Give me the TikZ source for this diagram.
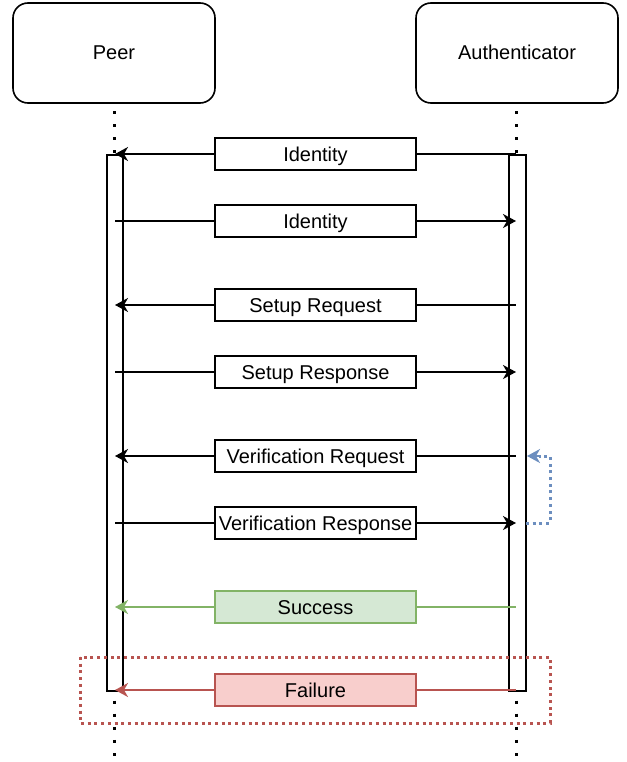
\documentclass[tikz,border=0pt]{standalone}
\usepackage{fontspec}
\setmainfont{Liberation Sans}
\usetikzlibrary{arrows.meta}
\definecolor{bluec}{HTML}{6C8EBF}
\definecolor{greenc}{HTML}{82B366}
\definecolor{greenf}{HTML}{D5E8D4}
\definecolor{redc}{HTML}{B85450}
\definecolor{redf}{HTML}{F8CECC}
\begin{document}
\begin{tikzpicture}[x=1pt,y=-1pt,
  actorbox/.style={draw,line width=1.6pt,rounded corners=15pt,minimum width=202pt,minimum height=100pt,text height=15pt,text depth=1pt,font=\fontsize{20}{24}\selectfont},
  msgbox/.style={draw,line width=1.6pt,fill=white,minimum width=201pt,minimum height=32pt,inner sep=0pt,text height=15pt,text depth=1pt,font=\fontsize{20}{24}\selectfont},
  lifeline/.style={line width=3pt,dash pattern=on 3pt off 10.1pt,dash phase=5.8pt},
  actbar/.style={draw,line width=1.6pt,fill=white},
  msgline/.style={line width=1.5pt},
  tip/.style={-{Stealth[length=13pt,width=14pt,inset=4pt]}},
  dotline/.style={line width=3pt,dash pattern=on 3pt off 3.7pt}
]
\useasboundingbox (0,0) rectangle (626,762);
\fill[white] (0,0) rectangle (626,762);
% actors
\node[actorbox] (peer) at (114,53) {Peer};
\node[actorbox] (auth) at (517,53) {Authenticator};
% lifeline ends
\coordinate (peerEnd) at (114,762);
\coordinate (authEnd) at (516,762);
\draw[lifeline] (peer.south) -- (peerEnd);
\draw[lifeline] (auth.south -| authEnd) -- (authEnd);
% activation bars
\node[actbar,minimum width=16pt,minimum height=536pt,inner sep=0pt,anchor=north west] (barP) at (106,154) {};
\node[actbar,minimum width=17pt,minimum height=536pt,inner sep=0pt,anchor=north west] (barA) at (508,154) {};
% message boxes
\node[msgbox] (m1) at (315.5,154) {Identity};
\node[msgbox] (m2) at (315.5,221) {Identity};
\node[msgbox] (m3) at (315.5,305) {Setup Request};
\node[msgbox] (m4) at (315.5,372) {Setup Response};
\node[msgbox] (m5) at (315.5,456) {Verification Request};
\node[msgbox] (m6) at (315.5,523) {Verification Response};
\node[msgbox,draw=greenc,fill=greenf] (m7) at (315.5,607) {Success};
\node[msgbox,draw=redc,fill=redf] (m8) at (315.5,690) {Failure};
% lifeline points
\foreach \n/\y in {1/154,2/221,3/305,4/372,5/456,6/523,7/607,8/690}{
  \coordinate (p\n) at (115,\y);
  \coordinate (a\n) at (516,\y);
}
% messages to peer (left)
\draw[msgline,tip] (m1.west) -- (p1);
\draw[msgline] (m1.east) -- (a1);
\draw[msgline,tip] (m3.west) -- (p3);
\draw[msgline] (m3.east) -- (a3);
\draw[msgline,tip] (m5.west) -- (p5);
\draw[msgline] (m5.east) -- (a5);
% messages to authenticator (right)
\draw[msgline] (p2) -- (m2.west);
\draw[msgline,tip] (m2.east) -- (a2);
\draw[msgline] (p4) -- (m4.west);
\draw[msgline,tip] (m4.east) -- (a4);
\draw[msgline] (p6) -- (m6.west);
\draw[msgline,tip] (m6.east) -- (a6);
% success / failure
\draw[msgline,greenc,tip] (m7.west) -- (p7);
\draw[msgline,greenc] (m7.east) -- (a7);
\draw[msgline,redc,tip] (m8.west) -- (p8);
\draw[msgline,redc] (m8.east) -- (a8);
% blue loop
\coordinate (bStart) at (526,523);
\coordinate (bCorner) at (550,456);
\coordinate (bEnd) at (527,456);
\draw[bluec,dotline] (bStart) -| (bCorner) -- ([xshift=12pt]bEnd);
\draw[bluec,line width=1.5pt,tip] ([xshift=13pt]bEnd) -- (bEnd);
% red dotted frame
\coordinate (fNW) at (80,657);
\coordinate (fSE) at (550,723);
\draw[redc,dotline] (fNW) rectangle (fSE);
\end{tikzpicture}
\end{document}
